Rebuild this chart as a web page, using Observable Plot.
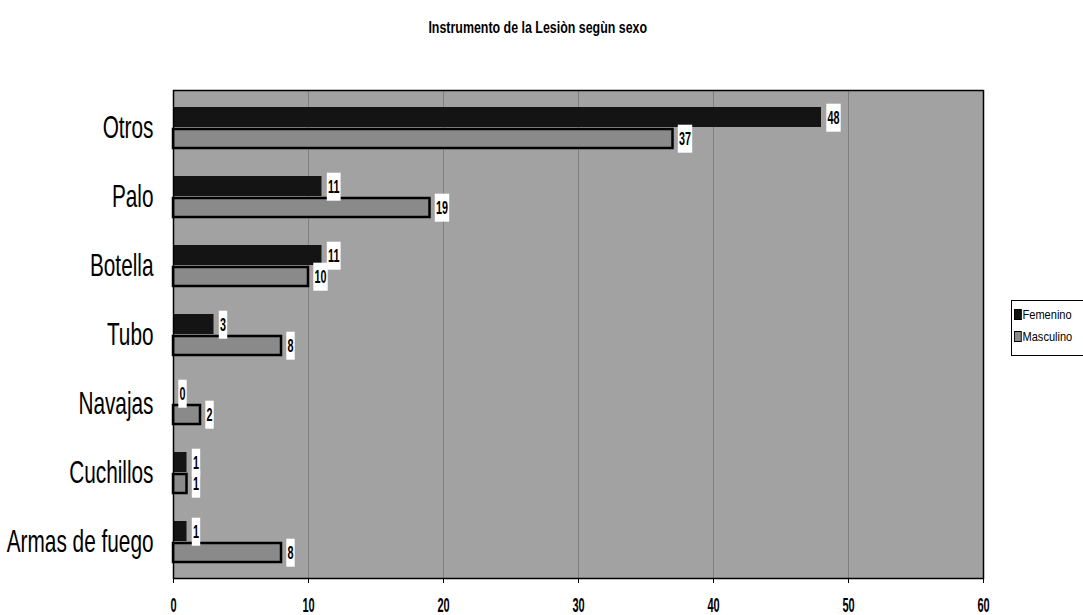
<!DOCTYPE html>
<html><head><meta charset="utf-8">
<script src="https://cdn.jsdelivr.net/npm/d3@7"></script>
<script src="https://cdn.jsdelivr.net/npm/@observablehq/plot@0.6"></script>
<style>
body{margin:0;background:#fff;}
#wrap{position:relative;width:1083px;height:615px;font-family:"Liberation Sans","Arial",sans-serif;}
#title{position:absolute;top:18px;left:0;width:1075px;text-align:center;font-weight:bold;font-size:17px;}
#title span{display:inline-block;transform:scaleX(0.73);}
#legend{position:absolute;left:1011px;top:300px;width:80px;height:54px;border:1px solid #000;border-right:none;font-size:13px;background:#fff;}
#legend .it{position:absolute;left:2px;display:flex;align-items:center;transform-origin:0 50%;transform:scaleX(0.85);white-space:nowrap;}
#legend .sw{display:inline-block;width:9px;height:11px;margin-right:1px;border:1px solid #000;box-sizing:border-box;}
svg{position:absolute;left:0;top:0;}
</style></head>
<body>
<div id="wrap">
<div id="chart"></div>
<div id="title"><span>Instrumento de la Lesiòn segùn sexo</span></div>
<div id="legend"></div>
</div>
<script>
const categories = ["Otros","Palo","Botella","Tubo","Navajas","Cuchillos","Armas de fuego"];
const series = ["Femenino","Masculino"];
const femenino = [48,11,11,3,0,1,1];
const masculino = [37,19,10,8,2,1,8];
const xTicks = [0,10,20,30,40,50,60];
const colors = {"Femenino":"#141414","Masculino":"#8a8a8a"};

const fem = categories.map((c,i)=>({category:c, value:femenino[i]}));
const masc = categories.map((c,i)=>({category:c, value:masculino[i]}));

const labelOpts = {x:"value", y:"category", text:d=>String(d.value), dx:6, textAnchor:"start",
  fill:"#000", fontWeight:"bold", fontSize:18, className:"vlab"};

const chart = Plot.plot({
  width:1083, height:615,
  marginLeft:173, marginRight:100, marginTop:90, marginBottom:37,
  style:{fontFamily:'"Liberation Sans","Arial",sans-serif', background:"transparent", color:"#000"},
  x:{domain:[0,60]},
  y:{domain:categories, padding:0},
  marks:[
    Plot.frame({fill:"#a2a2a2"}),
    Plot.gridX(xTicks, {stroke:"#555", strokeOpacity:0.45, strokeWidth:1}),
    Plot.barX(fem, {x:"value", y:"category", fill:colors.Femenino, insetTop:14, insetBottom:35}),
    Plot.barX(masc, {x:"value", y:"category", fill:colors.Masculino, stroke:"#000", strokeWidth:2.5, insetTop:36, insetBottom:14}),
    Plot.text(fem, {...labelOpts, dy:-10}),
    Plot.text(masc, {...labelOpts, dy:11}),
    Plot.frame({stroke:"#000", strokeWidth:1.5}),
    Plot.axisX({ticks:xTicks, tickSize:5, tickPadding:14, fontWeight:"bold", fontSize:20, label:null}),
    Plot.axisY({tickSize:0, tickPadding:20, fontSize:32, label:null})
  ]
});
document.getElementById("chart").appendChild(chart);

// condense text to mimic the squeezed typeface of the original
function narrow(el, k){
  const ax = +(el.getAttribute("x") || 0);
  const tr = el.getAttribute("transform") || "";
  el.setAttribute("transform", `${tr} translate(${ax},0) scale(${k},1) translate(${-ax},0)`);
}
chart.querySelectorAll('g[aria-label="y-axis tick label"] text').forEach(t=>narrow(t,0.65));
chart.querySelectorAll('g[aria-label="x-axis tick label"] text').forEach(t=>narrow(t,0.55));
chart.querySelectorAll('g.vlab text').forEach(t=>{
  narrow(t,0.6);
  const b = t.getBBox();
  const r = document.createElementNS("http://www.w3.org/2000/svg","rect");
  r.setAttribute("x", b.x-2);
  r.setAttribute("width", b.width+4);
  r.setAttribute("y", b.y + b.height/2 - 14);
  r.setAttribute("height", 28);
  r.setAttribute("fill", "#fff");
  const tr = t.getAttribute("transform"); if (tr) r.setAttribute("transform", tr);
  t.parentNode.insertBefore(r, t);
});

const lg = document.getElementById("legend");
series.forEach((s,i)=>{
  const it = document.createElement("div");
  it.className = "it";
  it.style.top = (6 + i*22) + "px";
  const sw = document.createElement("span");
  sw.className = "sw";
  sw.style.background = colors[s];
  it.appendChild(sw);
  it.appendChild(document.createTextNode(s));
  lg.appendChild(it);
});
</script>
</body></html>
